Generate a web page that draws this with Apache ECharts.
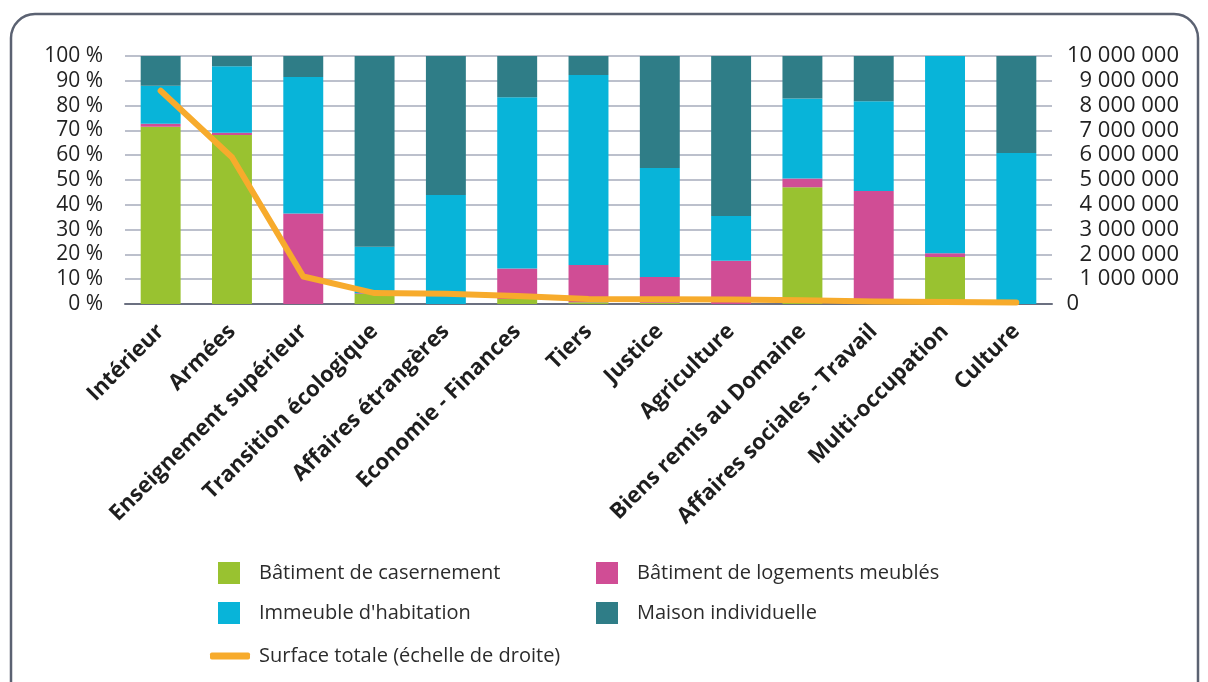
<!DOCTYPE html>
<html lang="fr">
<head>
    <meta charset="utf-8">
    <title>Surface par ministère</title>
    <script src="https://cdn.jsdelivr.net/npm/echarts@6.0.0/dist/echarts.min.js"></script>
    <style>
        html, body { margin: 0; padding: 0; background: #fff; }
        #main { width: 1208px; height: 682px; }
    </style>
</head>
<body>
<div id="main"></div>

<script type="text/javascript">
    // données (parts en %, surface en m²)
    var categories = ['Intérieur', 'Armées', 'Enseignement supérieur', 'Transition écologique',
        'Affaires étrangères', 'Economie - Finances', 'Tiers', 'Justice', 'Agriculture',
        'Biens remis au Domaine', 'Affaires sociales - Travail', 'Multi-occupation', 'Culture'];
    var casernement = [71.5, 68.1, 0, 4.0, 0, 2.0, 0.7, 0.5, 0, 47.1, 0, 19.0, 0];
    var meubles     = [1.2, 1.0, 36.5, 0.3, 0, 12.3, 15.0, 10.4, 17.4, 3.5, 45.6, 1.5, 0];
    var immeuble    = [15.3, 26.8, 55.0, 18.8, 44.0, 69.1, 76.6, 43.9, 18.1, 32.3, 36.2, 79.5, 60.9];
    var maison      = [12.0, 4.1, 8.5, 76.9, 56.0, 16.6, 7.7, 45.2, 64.5, 17.1, 18.2, 0, 39.1];
    var surface     = [8600000, 5920000, 1110000, 440000, 410000, 320000, 200000, 190000,
        180000, 150000, 100000, 80000, 60000];
    var leftTicks = [0, 100, 10];
    var rightTicks = [0, 10000000, 1000000];

    var font = 'Open Sans';
    var myChart = echarts.init(document.getElementById('main'));

    var fmtSpace = function (v) {
        return String(v).replace(/\B(?=(\d{3})+(?!\d))/g, ' ');
    };

    var legendItem = function (name, left, top, icon, w, h, pad) {
        return {
            data: [name], left: left, top: top, icon: icon, padding: 0,
            itemWidth: w, itemHeight: h, selectedMode: false,
            textStyle: { fontFamily: font, fontSize: 20, color: '#2b2b2b', padding: [0, 0, 0, pad] }
        };
    };

    var barSeries = function (name, data, color) {
        return {
            name: name, type: 'bar', stack: 'total', data: data,
            barCategoryGap: '44%',
            itemStyle: { color: color },
            emphasis: { disabled: true }
        };
    };

    myChart.setOption({
        animation: false,
        graphic: [{
            type: 'rect',
            shape: { x: 11, y: 14, width: 1187, height: 720, r: 24 },
            style: { fill: 'none', stroke: '#5b6272', lineWidth: 2.5 },
            silent: true
        }],
        grid: { left: 125, right: 156, top: 56, bottom: 378 },
        legend: [
            legendItem('Bâtiment de casernement', 218, 562, 'rect', 22, 22, 14),
            legendItem('Bâtiment de logements meublés', 596, 562, 'rect', 22, 22, 14),
            legendItem('Immeuble d\'habitation', 218, 602, 'rect', 22, 22, 14),
            legendItem('Maison individuelle', 596, 602, 'rect', 22, 22, 14),
            legendItem('Surface totale (échelle de droite)', 210, 646, 'roundRect', 40, 7, 4)
        ],
        xAxis: {
            type: 'category',
            data: categories,
            axisTick: { show: false },
            axisLine: { lineStyle: { color: '#6b7080', width: 2 } },
            axisLabel: {
                interval: 0, rotate: 45, margin: 24,
                fontFamily: font, fontSize: 22, fontWeight: 'bold', color: '#1e1e1e'
            }
        },
        yAxis: [{
            type: 'value',
            min: leftTicks[0], max: leftTicks[1], interval: leftTicks[2],
            axisLine: { show: false },
            axisTick: { show: false },
            splitLine: { lineStyle: { color: '#bcc0cc', width: 2 } },
            axisLabel: {
                formatter: '{value} %', margin: 22,
                fontFamily: font, fontSize: 21, color: '#222'
            }
        }, {
            type: 'value',
            min: rightTicks[0], max: rightTicks[1], interval: rightTicks[2],
            axisLine: { show: false },
            axisTick: { show: false },
            splitLine: { show: false },
            axisLabel: {
                align: 'right', margin: 127,
                fontFamily: font, fontSize: 22, color: '#222',
                formatter: function (v) {
                    return v === 0 ? '{z|0}' : fmtSpace(v);
                },
                rich: { z: { fontFamily: font, fontSize: 22, color: '#222', padding: [0, 100, 0, 0] } }
            }
        }],
        series: [
            barSeries('Bâtiment de casernement', casernement, '#99c230'),
            barSeries('Bâtiment de logements meublés', meubles, '#d04d95'),
            barSeries('Immeuble d\'habitation', immeuble, '#08b4d9'),
            barSeries('Maison individuelle', maison, '#2f7d87'),
            {
                name: 'Surface totale (échelle de droite)',
                type: 'line',
                yAxisIndex: 1,
                data: surface,
                symbol: 'none',
                itemStyle: { color: '#f7ab2c' },
                lineStyle: { color: '#f7ab2c', width: 6, cap: 'round', join: 'round' },
                emphasis: { disabled: true }
            }
        ]
    });
</script>
</body>
</html>
